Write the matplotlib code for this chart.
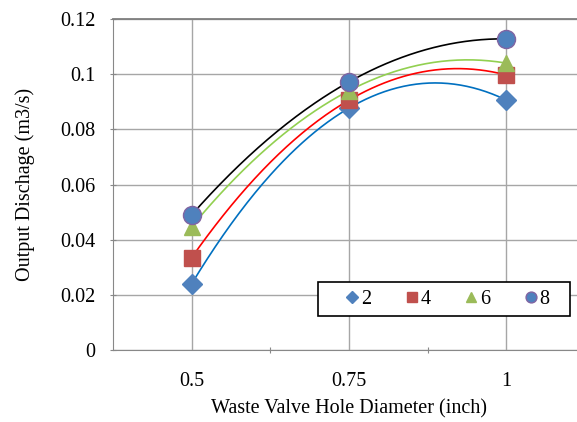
import matplotlib

matplotlib.use("Agg")

import matplotlib.pyplot as plt
import numpy as np
from matplotlib.patches import Rectangle

categories = ["0.5", "0.75", "1"]
series_names = ["2", "4", "6", "8"]
discharge_2 = [0.024, 0.0877, 0.0906]
discharge_4 = [0.0335, 0.0906, 0.0997]
discharge_6 = [0.0447, 0.094, 0.104]
discharge_8 = [0.049, 0.0972, 0.1128]
y_ticks = [0, 0.02, 0.04, 0.06, 0.08, 0.1, 0.12]
y_tick_labels = ["0", "0.02", "0.04", "0.06", "0.08", "0.1", "0.12"]

plt.rcParams["font.family"] = ["Liberation Serif", "DejaVu Serif"]
FS = 14.5
W, H = 577, 422

fig = plt.figure(figsize=(W / 100, H / 100), dpi=100)
ax = fig.add_axes([113 / W, 72 / H, 472 / W, 331 / H])

x = np.arange(1, len(categories) + 1)
xs = np.linspace(1, len(categories), 200)

styles = [
    (discharge_2, "D", 10, "#4F81BD", "#4F81BD", "#0070C0"),
    (discharge_4, "s", 12, "#C0504D", "#C0504D", "#FF0000"),
    (discharge_6, "^", 12, "#9BBB59", "#9BBB59", "#92D050"),
    (discharge_8, "o", 13, "#4F81BD", "#8064A2", "#000000"),
]

handles = []
for (vals, mk, ms, fc, ec, tc), name in zip(styles, series_names):
    # second order trendline (category index as x, like the spreadsheet)
    coef = np.polyfit(x, vals, 2)
    ax.plot(xs, np.polyval(coef, xs), color=tc, linewidth=1.2, zorder=3)
    h, = ax.plot(x, vals, linestyle="none", marker=mk, markersize=ms,
                 markerfacecolor=fc, markeredgecolor=ec, markeredgewidth=1,
                 zorder=4, label=name)
    handles.append(h)

ax.set_xlim(0.5, 3.5)
ax.set_ylim(0, 0.12)
ax.set_xticks([1.5, 2.5, 3.5], minor=False)
ax.set_xticklabels([])
ax.set_xticks(x, minor=True)
ax.set_xticklabels(categories, minor=True, fontsize=FS)
ax.tick_params(axis="x", which="minor", length=0, pad=16)
ax.tick_params(axis="x", which="major", length=5, color="#888888", direction="inout")
ax.set_yticks(y_ticks)
ax.set_yticklabels(y_tick_labels, fontsize=FS)
ax.tick_params(axis="y", length=5, color="#888888", direction="inout", pad=10)

ax.grid(True, axis="y", which="major", color="#A6A6A6", linewidth=1)
ax.grid(True, axis="x", which="minor", color="#A6A6A6", linewidth=1)
ax.set_axisbelow(True)

ax.spines["right"].set_visible(False)
ax.spines["top"].set_color("#7F7F7F")
ax.spines["top"].set_linewidth(1.3)
ax.spines["left"].set_color("#888888")
ax.spines["bottom"].set_color("#888888")

ax.set_xlabel("Waste Valve Hole Diameter (inch)", fontsize=FS, labelpad=6)
ax.set_ylabel("Output Dischage (m3/s)", fontsize=FS, labelpad=18)

# legend box is wider than its entries, so draw the frame separately
frame = Rectangle((318 / W, 1 - 316 / H), 252 / W, 34 / H, transform=fig.transFigure,
                  facecolor="white", edgecolor="black", linewidth=1.2, zorder=5)
fig.add_artist(frame)
leg = fig.legend(handles=handles, ncol=4, loc="center",
                 bbox_to_anchor=(448 / W, 1 - 299 / H),
                 frameon=False, fontsize=FS,
                 handlelength=0.6, handletextpad=0.15, columnspacing=1.7,
                 markerscale=0.6, borderpad=0.2)
leg.set_zorder(6)

fig.savefig("out.png", dpi=100)
